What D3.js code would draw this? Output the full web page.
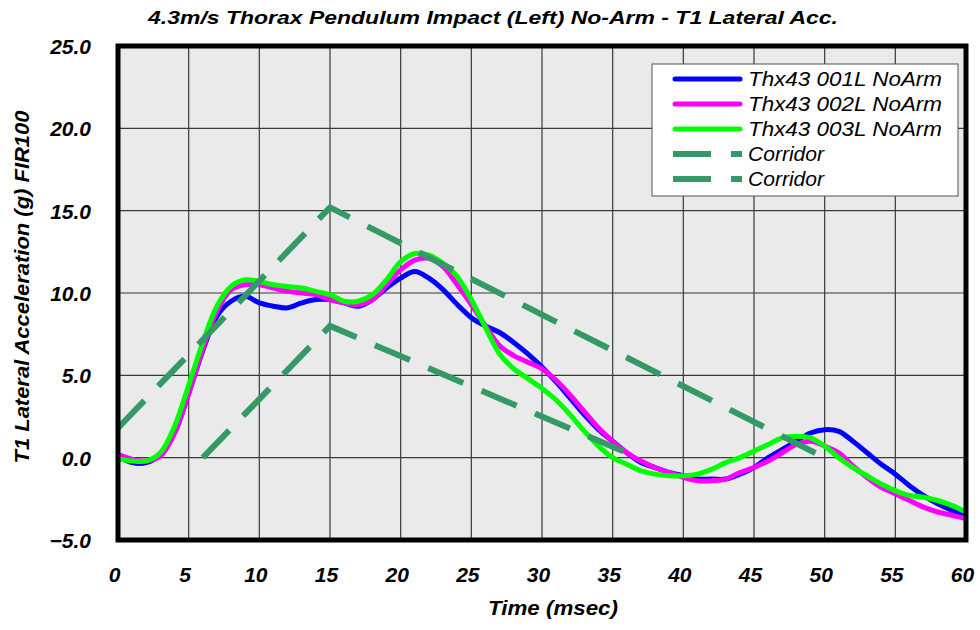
<!DOCTYPE html>
<html>
<head>
<meta charset="utf-8">
<script src="https://cdn.jsdelivr.net/npm/d3@7/dist/d3.min.js"></script>
<style>
  html, body { margin: 0; padding: 0; background: #fff; }
  svg { display: block; }
  text { font-family: "Liberation Sans", Arial, sans-serif; }
</style>
</head>
<body>
<svg id="chart" width="980" height="630"></svg>
<script>
// Time base (msec) shared by all test traces
const timeMs = d3.range(0, 61, 1);

// T1 lateral acceleration (g), FIR100 filtered
const thx43_001L = [
  0.1, -0.3, -0.3, 0.2, 1.5, 3.9, 6.5, 8.6, 9.5, 9.8,
  9.4, 9.2, 9.1, 9.4, 9.6, 9.6, 9.4, 9.2, 9.6, 10.3,
  10.9, 11.3, 10.9, 10.2, 9.3, 8.5, 8.0, 7.6, 7.0, 6.3,
  5.5, 4.6, 3.6, 2.6, 1.7, 1.0, 0.3, -0.3, -0.6, -0.9,
  -1.1, -1.3, -1.3, -1.3, -1.0, -0.6, 0.0, 0.5, 1.0, 1.5,
  1.7, 1.6, 1.0, 0.3, -0.4, -1.0, -1.7, -2.3, -2.8, -3.2,
  -3.6
];
const thx43_002L = [
  0.2, -0.1, -0.2, 0.1, 1.5, 3.9, 6.6, 8.9, 10.2, 10.5,
  10.5, 10.3, 10.1, 10.0, 9.9, 9.6, 9.4, 9.3, 9.6, 10.5,
  11.4, 12.0, 12.1, 11.6, 10.5, 9.3, 8.0, 6.8, 6.2, 5.8,
  5.4, 4.7, 3.8, 2.8, 1.8, 1.0, 0.3, -0.2, -0.6, -0.9,
  -1.2, -1.4, -1.4, -1.3, -0.9, -0.6, -0.2, 0.3, 0.8, 1.0,
  0.7, 0.3, -0.5, -1.2, -1.8, -2.2, -2.6, -3.0, -3.3, -3.5,
  -3.7
];
const thx43_003L = [
  -0.1, -0.2, -0.2, 0.3, 1.9, 4.4, 7.0, 9.2, 10.4, 10.8,
  10.7, 10.5, 10.4, 10.3, 10.1, 9.9, 9.5, 9.5, 9.9, 10.8,
  11.9, 12.4, 12.3, 11.8, 11.0, 9.6, 7.9, 6.3, 5.4, 4.8,
  4.2, 3.5, 2.6, 1.6, 0.7, 0.0, -0.4, -0.8, -1.0, -1.1,
  -1.1, -1.0, -0.7, -0.3, 0.0, 0.4, 0.8, 1.2, 1.3, 1.2,
  0.7, 0.0, -0.6, -1.1, -1.6, -2.0, -2.3, -2.4, -2.6, -2.9,
  -3.3
];

// Corridor boundaries: [time, g]
const corridorUpper = [[0, 1.8], [15, 15.2], [50, 0]];
const corridorLower = [[6, 0], [15, 8], [36.8, 0]];

// Axis ticks
const xTicks = d3.range(0, 61, 5);
const yTicks = d3.range(-5, 25.1, 5);

const seriesNames = ["Thx43 001L NoArm", "Thx43 002L NoArm", "Thx43 003L NoArm"];
const seriesColors = ["#0000FF", "#FF00FF", "#00FF00"];
const corridorColor = "#339966";

const svg = d3.select("#chart");
const plot = { left: 118, top: 46, right: 966, bottom: 540 };

const x = d3.scaleLinear().domain([0, 60]).range([plot.left, plot.right]);
const y = d3.scaleLinear().domain([-5, 25]).range([plot.bottom, plot.top]);

// Plot area background
svg.append("rect")
  .attr("x", plot.left).attr("y", plot.top)
  .attr("width", plot.right - plot.left).attr("height", plot.bottom - plot.top)
  .attr("fill", "#EAEAEA");

// Grid
const grid = svg.append("g").attr("stroke", "#3a3a3a").attr("stroke-width", 1.2);
grid.selectAll("line.v").data(xTicks.slice(1, -1)).join("line")
  .attr("x1", d => x(d)).attr("x2", d => x(d))
  .attr("y1", plot.top).attr("y2", plot.bottom);
grid.selectAll("line.h").data(yTicks.slice(1, -1)).join("line")
  .attr("x1", plot.left).attr("x2", plot.right)
  .attr("y1", d => y(d)).attr("y2", d => y(d));

// Clip traces to the plot area
svg.append("clipPath").attr("id", "clip")
  .append("rect")
  .attr("x", plot.left).attr("y", plot.top)
  .attr("width", plot.right - plot.left).attr("height", plot.bottom - plot.top);

const traceLine = d3.line()
  .x((d, i) => x(timeMs[i]))
  .y(d => y(d))
  .curve(d3.curveCatmullRom.alpha(0.5));

const traces = svg.append("g").attr("clip-path", "url(#clip)");
[thx43_001L, thx43_002L, thx43_003L].forEach((vals, i) => {
  traces.append("path")
    .datum(vals)
    .attr("d", traceLine)
    .attr("fill", "none")
    .attr("stroke", seriesColors[i])
    .attr("stroke-width", 5)
    .attr("stroke-linejoin", "round")
    .attr("stroke-linecap", "round");
});

const corridorLine = d3.line().x(d => x(d[0])).y(d => y(d[1]));
[corridorUpper, corridorLower].forEach(pts => {
  traces.append("path")
    .datum(pts)
    .attr("d", corridorLine)
    .attr("fill", "none")
    .attr("stroke", corridorColor)
    .attr("stroke-width", 6)
    .attr("stroke-dasharray", "38,20")
    .attr("stroke-linejoin", "miter");
});

// Plot frame
svg.append("rect")
  .attr("x", plot.left).attr("y", plot.top)
  .attr("width", plot.right - plot.left).attr("height", plot.bottom - plot.top)
  .attr("fill", "none").attr("stroke", "#000").attr("stroke-width", 5);

// Axes (labels only; the frame and grid are drawn above)
const tickFont = g => g.selectAll("text")
  .attr("font-size", 21).attr("font-weight", "bold").attr("font-style", "italic")
  .attr("fill", "#000");

const xAxis = svg.append("g")
  .attr("transform", `translate(0,${plot.bottom})`)
  .call(d3.axisBottom(x).tickValues(xTicks).tickSize(0).tickFormat(d3.format("d")))
  .call(g => g.select(".domain").remove())
  .call(tickFont);
xAxis.selectAll("text").attr("y", 42).attr("dy", 0).attr("dx", -4);

const yAxis = svg.append("g")
  .attr("transform", `translate(${plot.left},0)`)
  .call(d3.axisLeft(y).tickValues(yTicks).tickSize(0).tickPadding(27).tickFormat(d3.format(".1f")))
  .call(g => g.select(".domain").remove())
  .call(tickFont);
yAxis.selectAll("text").attr("dy", "0.36em");

// Titles
svg.append("text")
  .attr("x", 493).attr("y", 24)
  .attr("text-anchor", "middle")
  .attr("font-size", 19).attr("font-weight", "bold").attr("font-style", "italic")
  .attr("textLength", 690).attr("lengthAdjust", "spacingAndGlyphs")
  .text("4.3m/s Thorax Pendulum Impact (Left) No-Arm - T1 Lateral Acc.");

svg.append("text")
  .attr("x", 553).attr("y", 615)
  .attr("text-anchor", "middle")
  .attr("font-size", 20).attr("font-weight", "bold").attr("font-style", "italic")
  .attr("textLength", 130).attr("lengthAdjust", "spacingAndGlyphs")
  .text("Time (msec)");

svg.append("text")
  .attr("transform", "translate(29,287) rotate(-90)")
  .attr("text-anchor", "middle")
  .attr("font-size", 20).attr("font-weight", "bold").attr("font-style", "italic")
  .attr("textLength", 353).attr("lengthAdjust", "spacingAndGlyphs")
  .text("T1 Lateral Acceleration (g) FIR100");

// Legend
const legend = svg.append("g").attr("transform", "translate(652,64)");
legend.append("rect")
  .attr("width", 306).attr("height", 132)
  .attr("fill", "#fff").attr("stroke", "#555").attr("stroke-width", 1);

const legendItems = [
  { name: seriesNames[0], color: seriesColors[0], dashed: false, w: 194 },
  { name: seriesNames[1], color: seriesColors[1], dashed: false, w: 194 },
  { name: seriesNames[2], color: seriesColors[2], dashed: false, w: 194 },
  { name: "Corridor", color: corridorColor, dashed: true, w: 76 },
  { name: "Corridor", color: corridorColor, dashed: true, w: 76 }
];
const rows = legend.selectAll("g.row").data(legendItems).join("g")
  .attr("transform", (d, i) => `translate(0,${15 + i * 25})`);
rows.append("line")
  .attr("x1", d => d.dashed ? 21 : 23).attr("x2", d => d.dashed ? 90 : 88)
  .attr("stroke", d => d.color)
  .attr("stroke-width", d => d.dashed ? 6 : 5)
  .attr("stroke-linecap", d => d.dashed ? "butt" : "round")
  .attr("stroke-dasharray", d => d.dashed ? "38,20" : null);
rows.append("text")
  .attr("x", 96).attr("y", 7)
  .attr("font-size", 20).attr("font-style", "italic")
  .attr("textLength", d => d.w).attr("lengthAdjust", "spacingAndGlyphs")
  .text(d => d.name);
</script>
</body>
</html>
